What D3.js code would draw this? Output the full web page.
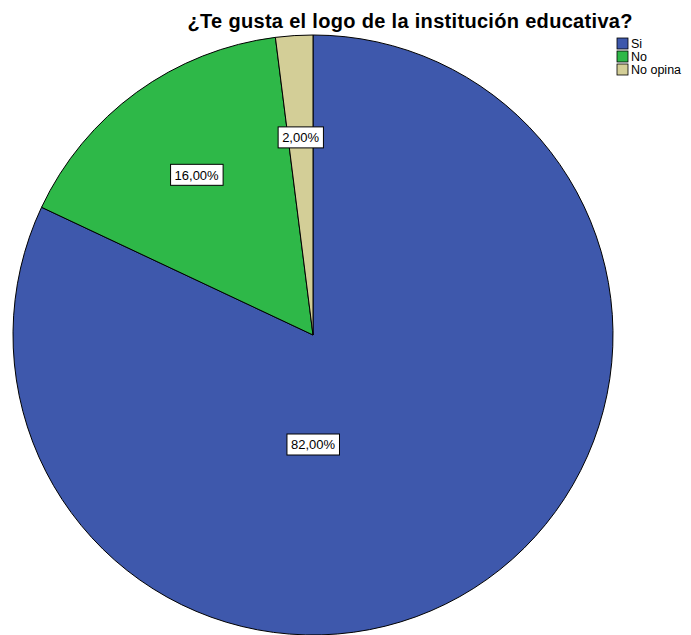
<!DOCTYPE html>
<head>
    <script src="https://cdn.jsdelivr.net/npm/d3@7"></script>
    <style>
        body { margin: 0; background: #fff; }
        .title { font: bold 20px "Liberation Sans", Arial, sans-serif; }
        .legend text { font: 12.5px "Liberation Sans", Arial, sans-serif; }
        .label text { font: 13px "Liberation Sans", Arial, sans-serif; }
        .slice { stroke: #000; stroke-width: 1; }
    </style>
</head>
<body>
<div id="chart"></div>
<script type="text/javascript">
    var categories = ["Si", "No", "No opina"];
    var values = [82, 16, 2];
    var colors = ["#3e58ac", "#2eb848", "#d3ce97"];
    var titleText = "¿Te gusta el logo de la institución educativa?";

    var width = 691, height = 635;
    var cx = 313, cy = 335, radius = 300;

    var svg = d3.select("#chart").append("svg")
        .attr("width", width)
        .attr("height", height);

    svg.append("text")
        .attr("class", "title")
        .attr("x", 410)
        .attr("y", 28)
        .attr("text-anchor", "middle")
        .attr("textLength", 445)
        .attr("lengthAdjust", "spacing")
        .text(titleText);

    var pie = d3.pie().sort(null).value(function (d) { return d; });
    var arcs = pie(values);
    var arc = d3.arc().innerRadius(0).outerRadius(radius);

    var g = svg.append("g").attr("transform", "translate(" + cx + "," + cy + ")");

    g.selectAll("path").data(arcs).enter()
        .append("path")
        .attr("class", "slice")
        .attr("fill", function (d, i) { return colors[i]; })
        .attr("d", arc);

    // SPSS puts the big slice label straight below the centre
    function labelPos(d) {
        var a, r;
        if (d.endAngle - d.startAngle > Math.PI) {
            a = Math.PI; r = radius * 0.365;
        } else {
            a = (d.startAngle + d.endAngle) / 2; r = radius * 0.66;
        }
        return [Math.sin(a) * r, -Math.cos(a) * r];
    }

    var fmt = function (v) { return v.toFixed(2).replace(".", ",") + "%"; };
    var total = d3.sum(values);

    var labels = g.selectAll("g.label").data(arcs).enter()
        .append("g")
        .attr("class", "label")
        .attr("transform", function (d) {
            var p = labelPos(d);
            return "translate(" + p[0] + "," + p[1] + ")";
        });
    labels.append("text")
        .attr("text-anchor", "middle")
        .attr("dy", "0.36em")
        .text(function (d) { return fmt(d.value / total * 100); });
    labels.each(function () {
        var gl = d3.select(this);
        var bb = gl.select("text").node().getBBox();
        gl.insert("rect", "text")
            .attr("x", bb.x - 4)
            .attr("y", -10.5)
            .attr("width", bb.width + 8)
            .attr("height", 21)
            .attr("fill", "#fff")
            .attr("stroke", "#000")
            .attr("stroke-width", 1);
    });

    var legend = svg.append("g").attr("class", "legend")
        .attr("transform", "translate(617,38)");
    var items = legend.selectAll("g").data(categories).enter()
        .append("g")
        .attr("transform", function (d, i) { return "translate(0," + (i * 13) + ")"; });
    items.append("rect")
        .attr("width", 11).attr("height", 11)
        .attr("fill", function (d, i) { return colors[i]; })
        .attr("stroke", "#000").attr("stroke-width", 0.8);
    items.append("text")
        .attr("x", 14).attr("y", 5.5).attr("dy", "0.35em")
        .text(function (d) { return d; });
</script>
</body>
</html>
